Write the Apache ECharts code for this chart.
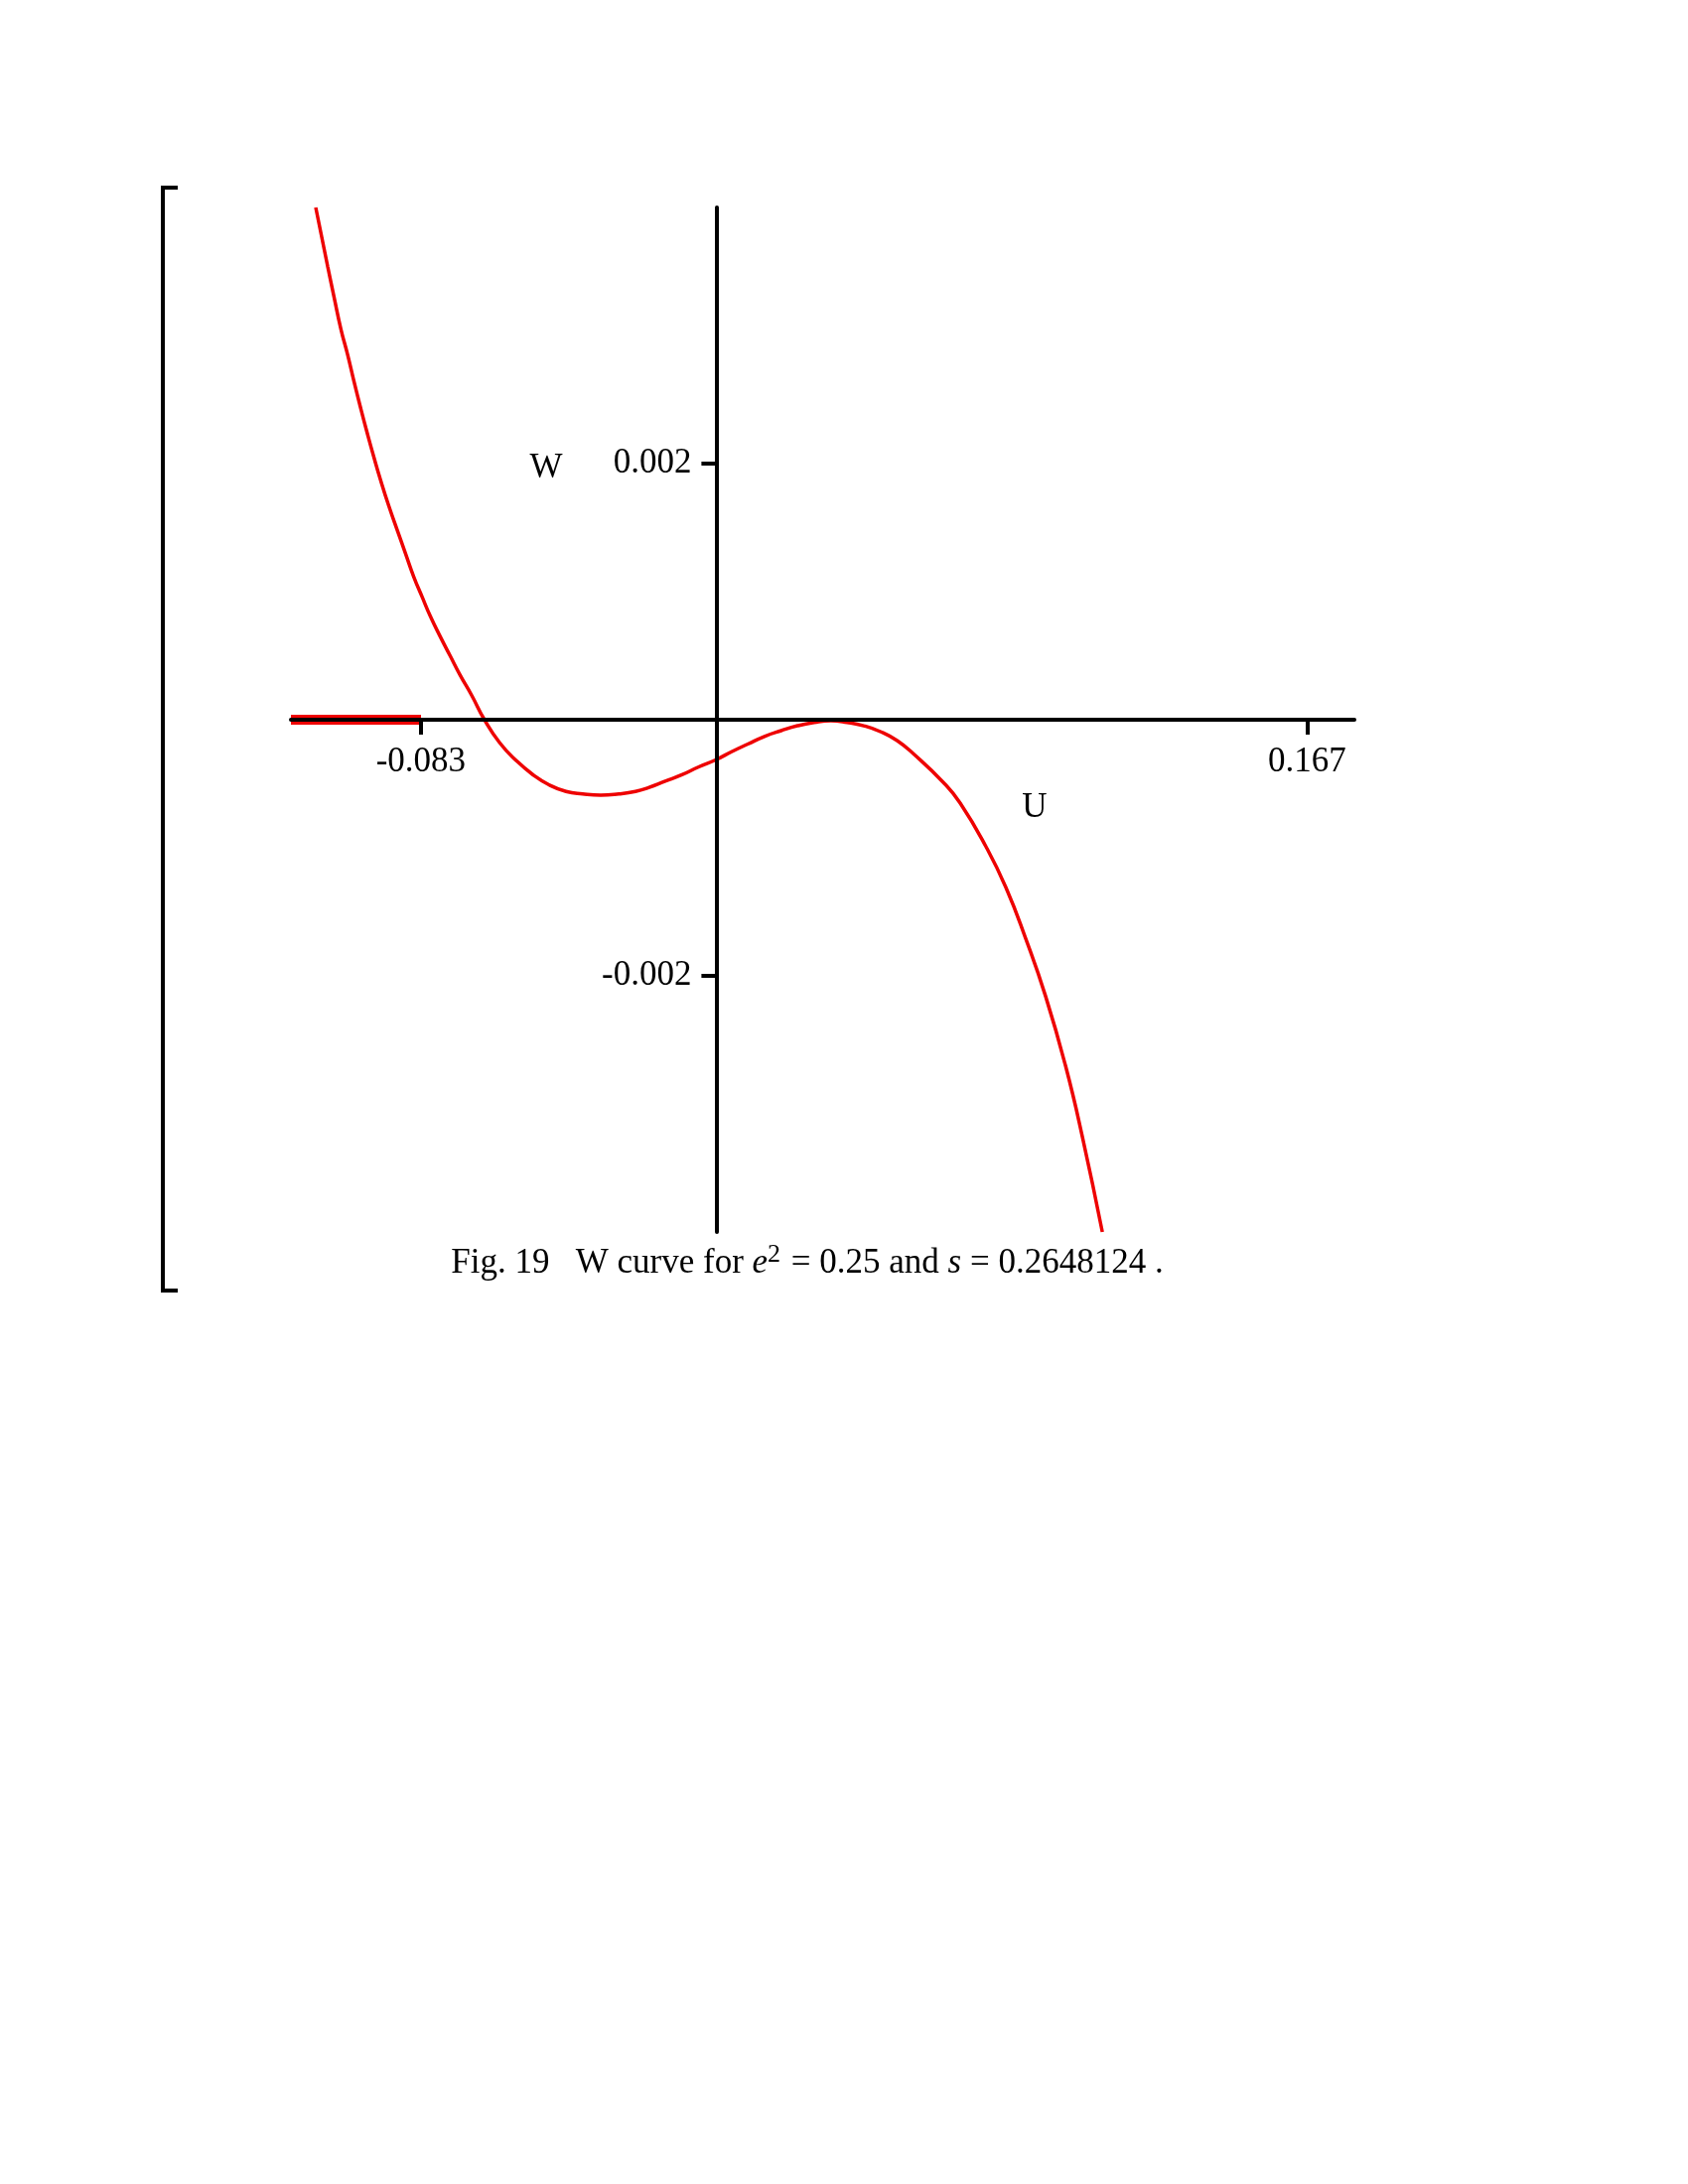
<!DOCTYPE html>
<html>
<head>
<meta charset="utf-8">
<title>Fig. 19 W curve</title>
<script src="https://cdn.jsdelivr.net/npm/echarts@6/dist/echarts.min.js"></script>
<style>
  html, body { margin: 0; padding: 0; background: #fff; }
  #chart_container { width: 1700px; height: 2200px; }
</style>
</head>
<body>
<div id="chart_container"></div>
<script>
// values (U on x, W on y)
var uVals = [-0.1130, -0.1096, -0.1078, -0.1059, -0.1040, -0.1022, -0.1003, -0.0984, -0.0966,
    -0.0947, -0.0924, -0.0900, -0.0877, -0.0854, -0.0830, -0.0807, -0.0779, -0.0751, -0.0723,
    -0.0690, -0.0654, -0.0611, -0.0564, -0.0517, -0.0471, -0.0424, -0.0377, -0.0326, -0.0275,
    -0.0228, -0.0191, -0.0144, -0.0097, -0.0051, 0.0001, 0.0043, 0.0089, 0.0136, 0.0183,
    0.0229, 0.0276, 0.0323, 0.0369, 0.0416, 0.0463, 0.0510, 0.0556, 0.0640, 0.0688,
    0.0761, 0.0817, 0.0873, 0.0929, 0.0985, 0.1033, 0.1089];
var wVals = [0.00400, 0.003535, 0.003295, 0.00305, 0.00285, 0.00264, 0.00243, 0.00223, 0.00205,
    0.00187, 0.00167, 0.00148, 0.00130, 0.00112, 0.00096, 0.00081, 0.00065, 0.00050, 0.00035,
    0.00019, 0.00000, -0.00018, -0.00032, -0.00043, -0.00051, -0.00056, -0.00058, -0.00059, -0.00058,
    -0.00056, -0.00053, -0.00048, -0.00043, -0.00037, -0.00031, -0.00025, -0.00019, -0.00013, -0.000085,
    -0.000047, -0.000021, -0.000008, -0.000021, -0.000047, -0.000093, -0.000163, -0.000266, -0.000488, -0.000651,
    -0.000992, -0.00131, -0.00171, -0.00216, -0.00270, -0.00326, -0.00400];

// thick red piece lying on the U axis
var bandU = [-0.12, -0.0833];
var bandW = [0, 0];

var xTicks = [-0.0833333, 0.1666667];
var xTickLabels = ['-0.083', '0.167'];
var yTicks = [-0.002, 0.002];
var yTickLabels = ['-0.002', '0.002'];

var serifFont = "'Liberation Serif', 'Times New Roman', serif";

function pairs(xs, ys) {
    var out = [];
    for (var i = 0; i < xs.length; i++) out.push([xs[i], ys[i]]);
    return out;
}
function tickLabel(ticks, labels) {
    return function (v) {
        for (var i = 0; i < ticks.length; i++) {
            if (Math.abs(v - ticks[i]) < 1e-9) return labels[i];
        }
        return '';
    };
}

var dom = document.getElementById("chart_container");
var myChart = echarts.init(dom, null, { renderer: 'canvas' });

// grid: U in [-0.12, 0.18], W in [-0.004, 0.004]
var gridLeft = 293, gridRight = 336, gridTop = 209, gridBottom = 959;
var plotW = 1700 - gridLeft - gridRight, plotH = 2200 - gridTop - gridBottom;
// axes cross at U = 0, W = 0: shift them inside the grid
var yAxisShift = plotW * 0.12 / 0.30;
var xAxisShift = plotH * 0.5;

var option = {
    backgroundColor: '#ffffff',
    animation: false,
    grid: {
        left: gridLeft,
        right: gridRight,
        top: gridTop,
        bottom: gridBottom,
        containLabel: false,
        outerBoundsMode: 'none'
    },
    xAxis: {
        type: 'value',
        min: -0.12,
        max: 0.18,
        position: 'bottom',
        offset: -xAxisShift,
        z: 5,
        splitLine: { show: false },
        axisLine: { show: true, onZero: false, lineStyle: { color: '#000', width: 4 } },
        axisTick: {
            show: true,
            length: 15,
            customValues: xTicks,
            lineStyle: { color: '#000', width: 4 }
        },
        axisLabel: {
            show: true,
            customValues: xTicks,
            margin: 25,
            color: '#000',
            fontFamily: serifFont,
            fontSize: 35,
            formatter: tickLabel(xTicks, xTickLabels)
        }
    },
    yAxis: {
        type: 'value',
        min: -0.004,
        max: 0.004,
        position: 'left',
        offset: -yAxisShift,
        z: 5,
        splitLine: { show: false },
        axisLine: { show: true, onZero: false, lineStyle: { color: '#000', width: 4 } },
        axisTick: {
            show: true,
            length: 15,
            customValues: yTicks,
            lineStyle: { color: '#000', width: 4 }
        },
        axisLabel: {
            show: true,
            customValues: yTicks,
            margin: 25,
            padding: [8, 0, 0, 0],
            color: '#000',
            fontFamily: serifFont,
            fontSize: 35,
            formatter: tickLabel(yTicks, yTickLabels)
        }
    },
    series: [
        {
            name: 'W',
            type: 'line',
            data: pairs(uVals, wVals),
            showSymbol: false,
            smooth: 0.5,
            lineStyle: { color: '#ee0000', width: 3.5 },
            z: 2
        },
        {
            name: 'band',
            type: 'line',
            data: pairs(bandU, bandW),
            showSymbol: false,
            lineStyle: { color: '#ee0000', width: 10 },
            z: 2
        }
    ],
    graphic: [
        {
            type: 'text',
            x: 550, y: 472,
            style: { text: 'W', font: "35px " + serifFont, fill: '#000', align: 'center', verticalAlign: 'middle' }
        },
        {
            type: 'text',
            x: 1042, y: 814,
            style: { text: 'U', font: "35px " + serifFont, fill: '#000', align: 'center', verticalAlign: 'middle' }
        },
        {
            type: 'polyline',
            shape: { points: [[179, 189], [164, 189], [164, 1300], [179, 1300]] },
            style: { stroke: '#000', lineWidth: 4, fill: null }
        },
        {
            type: 'text',
            x: 813, y: 1273,
            style: {
                text: 'Fig. 19   W curve for {it|e}{sup|2} = 0.25 and {it|s} = 0.2648124 .',
                font: "35px " + serifFont,
                fill: '#000',
                align: 'center',
                verticalAlign: 'middle',
                rich: {
                    it: { fontStyle: 'italic', fontFamily: serifFont, fontSize: 35, fill: '#000' },
                    sup: { fontFamily: serifFont, fontSize: 26, fill: '#000', verticalAlign: 'top', padding: [0, 2, 18, 0] }
                }
            }
        }
    ]
};

myChart.setOption(option, true);
myChart.resize();
</script>
</body>
</html>
